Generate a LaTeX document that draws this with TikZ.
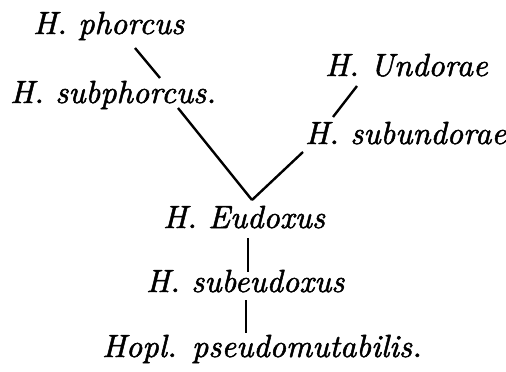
\documentclass[tikz,border=0pt]{standalone}
\usepackage{fontspec}
\usepackage{tikz}
\newfontfamily\oldprint{lmroman10-italic.otf}[FakeBold=1.6]
\tikzset{
  species/.style = {font=\oldprint\fontsize{32}{32}\selectfont, anchor=base west, inner sep=0pt},
  stem/.style    = {draw=black, line width=2.4pt},
}
\begin{document}
\begin{tikzpicture}[x=1pt,y=-1pt]
  \useasboundingbox (0,0) rectangle (506,372);

  \node[species] (phorcus)    at (33,34)   {H. phorcus};
  \node[species] (subphorcus) at (10,103)  {H. subphorcus.};
  \node[species] (undorae)    at (325,76)  {H. Undorae};
  \node[species] (subundorae) at (305,144) {H. subundorae};
  \node[species] (eudoxus)    at (163,228) {H. Eudoxus};
  \node[species] (subeudoxus) at (146,292) {H. subeudoxus};
  \node[species] (pseudomut)  at (102,357) {Hopl. pseudomutabilis.};

  \draw[stem] ([shift={(102,14)}]phorcus.base west) -- ([shift={(150,-25)}]subphorcus.base west);
  \draw[stem] ([shift={(32,10)}]undorae.base west) -- ([shift={(28,-27)}]subundorae.base west);
  \draw[stem] ([shift={(168,5)}]subphorcus.base west) -- ([shift={(89,-28)}]eudoxus.base west);
  \draw[stem] ([shift={(-2,8)}]subundorae.base west) -- ([shift={(89,-28)}]eudoxus.base west);
  \draw[stem] ([shift={(85,10)}]eudoxus.base west) -- ([shift={(102,-20)}]subeudoxus.base west);
  \draw[stem] ([shift={(100,8)}]subeudoxus.base west) -- ([shift={(144,-24)}]pseudomut.base west);
\end{tikzpicture}
\end{document}
